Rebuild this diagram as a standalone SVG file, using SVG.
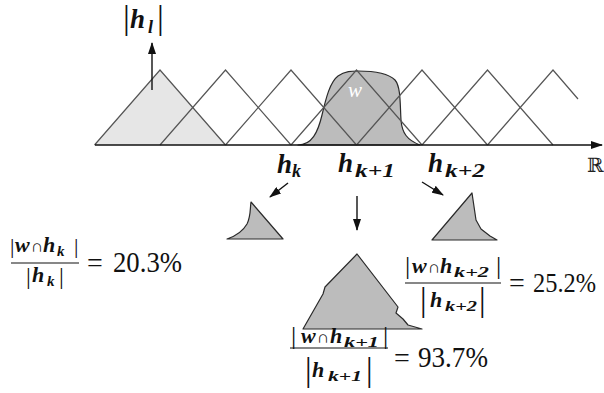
<svg xmlns="http://www.w3.org/2000/svg" width="604" height="393" viewBox="0 0 604 393">
<style>
.tri{fill:none;stroke:#555;stroke-width:1.2;stroke-linejoin:miter}
.shape{fill:#bcbcbc;stroke:#2a2a2a;stroke-width:1.2;stroke-linejoin:round}
.conn{stroke:#111;stroke-width:1.4;fill:none}
.mi{font-family:'Liberation Serif','Times New Roman','DejaVu Serif',serif;font-style:italic;font-weight:bold;fill:#111}
.rm{font-family:'Liberation Serif','Times New Roman','DejaVu Serif',serif;fill:#111}
</style>
<defs>
<marker id="ah" viewBox="0 0 12 8" refX="11" refY="4" markerWidth="12" markerHeight="8" markerUnits="userSpaceOnUse" orient="auto">
<path d="M0,0 L12,4 L0,8 Z" fill="#111"/>
</marker>
</defs>
<rect width="604" height="393" fill="#fff"/>

<g id="first-triangle-fill">
<polygon points="94.5,145 160,70 225.5,145" fill="#e6e6e6" stroke="none"/>
</g>

<g id="w-window">
<path class="shape" d="M298,145 C312,145 318,132 322,115 C326,98 330,82 338,76 C345,71 352,71 358,71 C372,71 388,73 395,80 C401,87 400,105 401,120 C402,133 407,140 420,145 Z" fill="#b4b4b4"/>
<text x="348" y="97" font-family="'Liberation Serif','Times New Roman',serif" font-style="italic" font-size="21" fill="#fff">w</text>
</g>

<g id="histogram-bins">
<polyline class="tri" points="94.5,145 160,70 225.5,145"/>
<polyline class="tri" points="160,145 225.5,70 291,145"/>
<polyline class="tri" points="225.5,145 291,70 356.5,145"/>
<polyline class="tri" points="291,145 356.5,70 422,145"/>
<polyline class="tri" points="356.5,145 422,70 487.5,145"/>
<polyline class="tri" points="422,145 487.5,70 553,145"/>
<polyline class="tri" points="487.5,145 553,70 578,99"/>
</g>

<g id="connectors">
<line class="conn" x1="95" y1="145" x2="602" y2="145" marker-end="url(#ah)"/>
<line class="conn" x1="152" y1="90" x2="152" y2="43" marker-end="url(#ah)"/>
<line class="conn" x1="288" y1="183" x2="270" y2="197" marker-end="url(#ah)"/>
<line class="conn" x1="357" y1="196" x2="357" y2="230" marker-end="url(#ah)"/>
<line class="conn" x1="422" y1="182" x2="443" y2="195" marker-end="url(#ah)"/>
</g>

<g id="label-hl">
<text class="rm" x="123" y="29" font-size="34">|</text>
<text class="mi" x="130" y="28" font-size="27">h</text>
<text class="mi" x="148" y="33" font-size="18">l</text>
<text class="rm" x="157" y="29" font-size="34">|</text>
</g>

<g id="label-R">
<text x="587" y="172" font-family="'DejaVu Serif',serif" font-size="20" fill="#222">ℝ</text>
</g>

<g id="label-hk">
<text class="mi" x="277" y="173" font-size="27">h</text>
<text class="mi" x="292" y="177" font-size="18">k</text>
</g>
<g id="label-hk1">
<text class="mi" x="338" y="172" font-size="27">h</text>
<text class="mi" x="355" y="177" font-size="18" textLength="40" lengthAdjust="spacingAndGlyphs">k+1</text>
</g>
<g id="label-hk2">
<text class="mi" x="428" y="172" font-size="27">h</text>
<text class="mi" x="445" y="177" font-size="18" textLength="40" lengthAdjust="spacingAndGlyphs">k+2</text>
</g>

<g id="shape-hk">
<path class="shape" d="M227,239 C236,236 243,231 247,224 C251,216 250,208 251,202 L283,239 Z"/>
</g>
<g id="shape-hk1">
<path class="shape" d="M303,329 L323,294 L325,287 L357,254 L398,307 L396,313 L403,319 L408,325 L422,329 Z"/>
</g>
<g id="shape-hk2">
<path class="shape" d="M432,240 L472,193 L476,220 L481,229 L490,236 L497,240 Z"/>
</g>

<g id="ratio-hk">
<text class="rm" x="10" y="253" font-size="22">|</text>
<text class="mi" x="15" y="252" font-size="22">w</text>
<text class="rm" x="31" y="252" font-size="17">∩</text>
<text class="mi" x="43" y="252" font-size="22">h</text>
<text class="mi" x="57" y="256" font-size="15">k</text>
<text class="rm" x="74" y="253" font-size="22">|</text>
<line x1="11" y1="263" x2="79" y2="263" stroke="#111" stroke-width="1.2"/>
<text class="rm" x="26" y="284" font-size="24">|</text>
<text class="mi" x="32" y="282" font-size="22">h</text>
<text class="mi" x="47" y="286" font-size="15">k</text>
<text class="rm" x="59" y="284" font-size="24">|</text>
<text class="rm" x="87" y="272" font-size="28">=</text>
<text class="rm" x="113" y="272" font-size="29" textLength="69" lengthAdjust="spacingAndGlyphs">20.3%</text>
</g>

<g id="ratio-hk2">
<text class="rm" x="405" y="274" font-size="26">|</text>
<text class="mi" x="412" y="273" font-size="22">w</text>
<text class="rm" x="428" y="273" font-size="17">∩</text>
<text class="mi" x="440" y="273" font-size="22">h</text>
<text class="mi" x="454" y="277" font-size="15" textLength="35" lengthAdjust="spacingAndGlyphs">k+2</text>
<text class="rm" x="496" y="274" font-size="26">|</text>
<line x1="405" y1="283" x2="501" y2="283" stroke="#111" stroke-width="1.2"/>
<text class="rm" x="420" y="311" font-size="33">|</text>
<text class="mi" x="430" y="307" font-size="22">h</text>
<text class="mi" x="445" y="311" font-size="15" textLength="32" lengthAdjust="spacingAndGlyphs">k+2</text>
<text class="rm" x="479" y="311" font-size="33">|</text>
<text class="rm" x="509" y="292" font-size="28">=</text>
<text class="rm" x="533" y="292" font-size="28" textLength="63" lengthAdjust="spacingAndGlyphs">25.2%</text>
</g>

<g id="ratio-hk1">
<text class="rm" x="291" y="344" font-size="26">|</text>
<text class="mi" x="301" y="343" font-size="22">w</text>
<text class="rm" x="317" y="343" font-size="17">∩</text>
<text class="mi" x="330" y="343" font-size="22">h</text>
<text class="mi" x="344" y="347" font-size="15" textLength="35" lengthAdjust="spacingAndGlyphs">k+1</text>
<text class="rm" x="383" y="344" font-size="26">|</text>
<line x1="290" y1="348" x2="388" y2="348" stroke="#111" stroke-width="1.2"/>
<text class="rm" x="305" y="381" font-size="33">|</text>
<text class="mi" x="312" y="377" font-size="22">h</text>
<text class="mi" x="328" y="381" font-size="15" textLength="34" lengthAdjust="spacingAndGlyphs">k+1</text>
<text class="rm" x="366" y="381" font-size="33">|</text>
<text class="rm" x="394" y="367" font-size="28">=</text>
<text class="rm" x="418" y="367" font-size="29" textLength="70" lengthAdjust="spacingAndGlyphs">93.7%</text>
</g>
</svg>
